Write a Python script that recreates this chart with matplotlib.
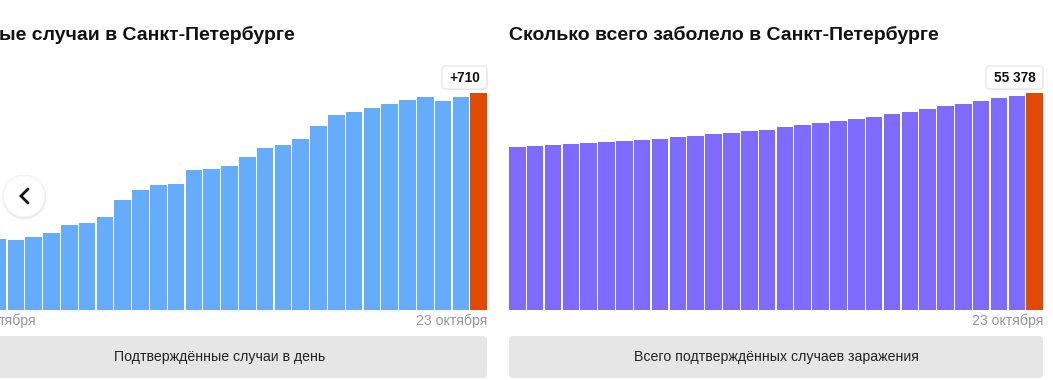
import numpy as np
import matplotlib
matplotlib.use("Agg")
from matplotlib import pyplot as plt
from matplotlib import transforms as mtransforms
from matplotlib.patches import FancyBboxPatch, Circle
from matplotlib.lines import Line2D

plt.rcParams['font.family'] = ['Liberation Sans', 'DejaVu Sans']

# daily confirmed cases (leftmost bar is cut off by the screenshot)
daily = [232, 228, 238, 251, 278, 284, 304, 360, 392, 409, 412, 458, 461, 471,
         501, 530, 540, 560, 603, 639, 649, 662, 675, 688, 698, 685, 698, 710]
# cumulative confirmed cases, last 30 days
total = [41620, 41950, 42210, 42460, 42720, 42970, 43230, 43490, 43740, 44250,
         44510, 45020, 45280, 45790, 46100, 46740, 47250, 47770, 48280, 48790,
         49300, 50070, 50580, 51350, 52120, 52630, 53400, 54170, 54680, 55378]

title_left = "ые случаи в Санкт-Петербурге"
title_right = "Сколько всего заболело в Санкт-Петербурге"
date_last = "23 октября"
date_first_cut = "тября"
button_left = "Подтверждённые случаи в день"
button_right = "Всего подтверждённых случаев заражения"

W, H = 1053, 380
fig = plt.figure(figsize=(W / 100, H / 100), dpi=100)
# pixel coordinates, origin top-left
px = mtransforms.Affine2D().scale(1 / W, -1 / H).translate(0, 1) + fig.transFigure

blue = "#66acfd"
purple = "#7f6aff"
orange = "#e04b03"
gray_txt = "#97979c"

base_y = 309.5
top_y = 93.3
ax_h = (base_y - top_y) / H

axl = fig.add_axes([0, (H - base_y) / H, 487 / W, ax_h])
axr = fig.add_axes([509 / W, (H - base_y) / H, 534 / W, ax_h])

bw = 0.93
xl = np.arange(len(daily))
axl.bar(xl, daily, width=bw, color=[blue] * (len(daily) - 1) + [orange])
axl.set_xlim(len(daily) - 1 + bw / 2 - 487 / 17.8, len(daily) - 1 + bw / 2)
axl.set_ylim(0, daily[-1])
axl.axis("off")

xr = np.arange(len(total))
axr.bar(xr, total, width=bw, color=[purple] * (len(total) - 1) + [orange])
axr.set_xlim(-bw / 2, len(total) - 1 + bw / 2)
axr.set_ylim(0, total[-1])
axr.axis("off")

# titles
fig.text(-1, 39.5, title_left, transform=px, fontsize=14, fontweight="bold",
         color="#111111", ha="left", va="baseline")
fig.text(509, 39.5, title_right, transform=px, fontsize=14, fontweight="bold",
         color="#111111", ha="left", va="baseline")


def value_box(x_right, width, text):
    shadow = FancyBboxPatch((x_right - width + 0.5, 66.8), width, 23,
                            boxstyle="round,pad=0,rounding_size=4",
                            transform=px, facecolor="#000000", alpha=0.06,
                            edgecolor="none")
    box = FancyBboxPatch((x_right - width, 66), width, 23,
                         boxstyle="round,pad=0,rounding_size=4",
                         transform=px, facecolor="white",
                         edgecolor="#e3e3e3", linewidth=0.8)
    fig.add_artist(shadow)
    fig.add_artist(box)
    fig.text(x_right - width / 2, 78, text, transform=px, fontsize=9.8,
             fontweight="bold", color="#111111", ha="center", va="center")


value_box(487, 45, f"+{daily[-1]}")
value_box(1043, 57, f"{total[-1]:,}".replace(",", " "))

# date labels
fig.text(487, 321, date_last, transform=px, fontsize=10.2, color=gray_txt,
         ha="right", va="center")
fig.text(1043, 321, date_last, transform=px, fontsize=10.2, color=gray_txt,
         ha="right", va="center")
fig.text(-1, 321, date_first_cut, transform=px, fontsize=10.2, color=gray_txt,
         ha="left", va="center")

# buttons under the charts (left one starts outside the screenshot)
for x0, x1, label in [(-47, 487, button_left), (509, 1043, button_right)]:
    btn = FancyBboxPatch((x0, 336), x1 - x0, 42,
                         boxstyle="round,pad=0,rounding_size=4",
                         transform=px, facecolor="#e6e6e6", edgecolor="none")
    fig.add_artist(btn)
    fig.text((x0 + x1) / 2, 357, label, transform=px, fontsize=10.2,
             color="#222222", ha="center", va="center")

# round "previous" button with chevron
fig.add_artist(Circle((24.5, 197.5), 22, transform=px, facecolor="#000000",
                      alpha=0.07, edgecolor="none"))
fig.add_artist(Circle((24, 196), 21, transform=px, facecolor="white",
                      edgecolor="#eeeeee", linewidth=0.6))
fig.add_artist(Line2D([28, 21, 28], [189, 196, 203], transform=px,
                      color="#111111", linewidth=2, solid_capstyle="round",
                      solid_joinstyle="miter"))

fig.savefig("out.png", dpi=100)
